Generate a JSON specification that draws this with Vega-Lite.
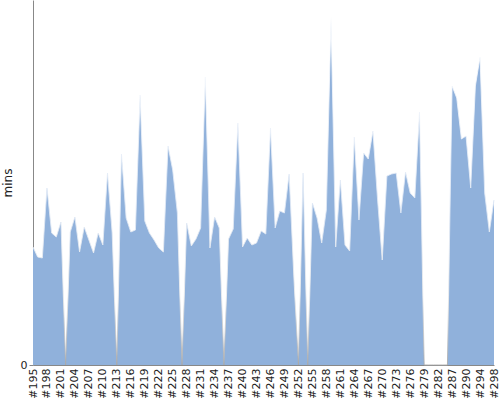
{
  "$schema": "https://vega.github.io/schema/vega-lite/v6.json",
  "width": 461,
  "height": 365,
  "autosize": "none",
  "padding": {"left": 33, "top": 0, "right": 6, "bottom": 35},
  "config": {"view": {"stroke": null}, "font": "DejaVu Sans"},
  "data": {"values": [
    {"build": "#195", "mins": 118}, {"build": "#196", "mins": 108}, {"build": "#197", "mins": 107},
    {"build": "#198", "mins": 177}, {"build": "#199", "mins": 132}, {"build": "#200", "mins": 128},
    {"build": "#201", "mins": 143}, {"build": "#202", "mins": 0}, {"build": "#203", "mins": 133},
    {"build": "#204", "mins": 148}, {"build": "#205", "mins": 113}, {"build": "#206", "mins": 138},
    {"build": "#207", "mins": 125}, {"build": "#208", "mins": 112}, {"build": "#209", "mins": 132},
    {"build": "#210", "mins": 120}, {"build": "#211", "mins": 192}, {"build": "#212", "mins": 132},
    {"build": "#213", "mins": 0}, {"build": "#214", "mins": 211}, {"build": "#215", "mins": 147},
    {"build": "#216", "mins": 133}, {"build": "#217", "mins": 135}, {"build": "#218", "mins": 270},
    {"build": "#219", "mins": 144}, {"build": "#220", "mins": 132}, {"build": "#221", "mins": 125},
    {"build": "#222", "mins": 117}, {"build": "#223", "mins": 113}, {"build": "#224", "mins": 219},
    {"build": "#225", "mins": 195}, {"build": "#226", "mins": 152}, {"build": "#227", "mins": 0},
    {"build": "#228", "mins": 142}, {"build": "#229", "mins": 119}, {"build": "#230", "mins": 126},
    {"build": "#231", "mins": 137}, {"build": "#232", "mins": 288}, {"build": "#233", "mins": 117},
    {"build": "#234", "mins": 148}, {"build": "#235", "mins": 137}, {"build": "#236", "mins": 0},
    {"build": "#237", "mins": 126}, {"build": "#238", "mins": 136}, {"build": "#239", "mins": 242},
    {"build": "#240", "mins": 118}, {"build": "#241", "mins": 127}, {"build": "#242", "mins": 120},
    {"build": "#243", "mins": 122}, {"build": "#244", "mins": 134}, {"build": "#245", "mins": 131},
    {"build": "#246", "mins": 237}, {"build": "#247", "mins": 137}, {"build": "#248", "mins": 154},
    {"build": "#249", "mins": 152}, {"build": "#250", "mins": 191}, {"build": "#251", "mins": 90},
    {"build": "#252", "mins": 0}, {"build": "#253", "mins": 192}, {"build": "#254", "mins": 0},
    {"build": "#255", "mins": 162}, {"build": "#256", "mins": 147}, {"build": "#257", "mins": 122},
    {"build": "#258", "mins": 155}, {"build": "#259", "mins": 348}, {"build": "#260", "mins": 118},
    {"build": "#261", "mins": 185}, {"build": "#262", "mins": 120}, {"build": "#263", "mins": 114},
    {"build": "#264", "mins": 228}, {"build": "#265", "mins": 145}, {"build": "#266", "mins": 212},
    {"build": "#267", "mins": 206}, {"build": "#268", "mins": 234}, {"build": "#269", "mins": 165},
    {"build": "#270", "mins": 105}, {"build": "#271", "mins": 189}, {"build": "#272", "mins": 191},
    {"build": "#273", "mins": 192}, {"build": "#274", "mins": 152}, {"build": "#275", "mins": 193},
    {"build": "#276", "mins": 172}, {"build": "#277", "mins": 167}, {"build": "#278", "mins": 253},
    {"build": "#279", "mins": 0}, {"build": "#280", "mins": 0}, {"build": "#281", "mins": 0},
    {"build": "#282", "mins": 0}, {"build": "#284", "mins": 0}, {"build": "#286", "mins": 0},
    {"build": "#287", "mins": 279}, {"build": "#288", "mins": 267}, {"build": "#289", "mins": 226},
    {"build": "#290", "mins": 229}, {"build": "#291", "mins": 177}, {"build": "#293", "mins": 279},
    {"build": "#294", "mins": 308}, {"build": "#296", "mins": 172}, {"build": "#297", "mins": 133},
    {"build": "#298", "mins": 165}
  ]},
  "encoding": {
    "x": {
      "field": "build", "type": "ordinal", "sort": null,
      "scale": {"type": "point", "padding": 0},
      "axis": {
        "title": null, "labelAngle": -90, "ticks": false, "labelPadding": 3,
        "labelFontSize": 11, "labelColor": "#222", "domainColor": "#888",
        "values": ["#195","#198","#201","#204","#207","#210","#213","#216","#219","#222","#225","#228","#231","#234","#237","#240","#243","#246","#249","#252","#255","#258","#261","#264","#267","#270","#273","#276","#279","#282","#287","#290","#294","#298"]
      }
    },
    "y": {
      "field": "mins", "type": "quantitative",
      "scale": {"domain": [0, 365], "nice": false},
      "axis": {
        "title": "mins", "values": [0], "grid": false, "tickSize": 4, "tickColor": "#888",
        "domainColor": "#888", "labelFontSize": 11, "labelColor": "#222", "labelPadding": 2,
        "titleFontSize": 12, "titleFontWeight": "normal", "titleColor": "#222", "titlePadding": 6
      }
    }
  },
  "layer": [
    {"mark": {"type": "area", "color": "#90b1db", "opacity": 1}},
    {"mark": {"type": "line", "strokeWidth": 1, "strokeOpacity": 0.85,
      "color": {"gradient": "linear", "x1": 0, "y1": 0, "x2": 0, "y2": 1,
        "stops": [{"offset": 0, "color": "#ffffff"}, {"offset": 0.55, "color": "#dfe8f5"}, {"offset": 0.8, "color": "#eeeeee"}, {"offset": 1, "color": "#a8a8a8"}]}}}
  ]
}
